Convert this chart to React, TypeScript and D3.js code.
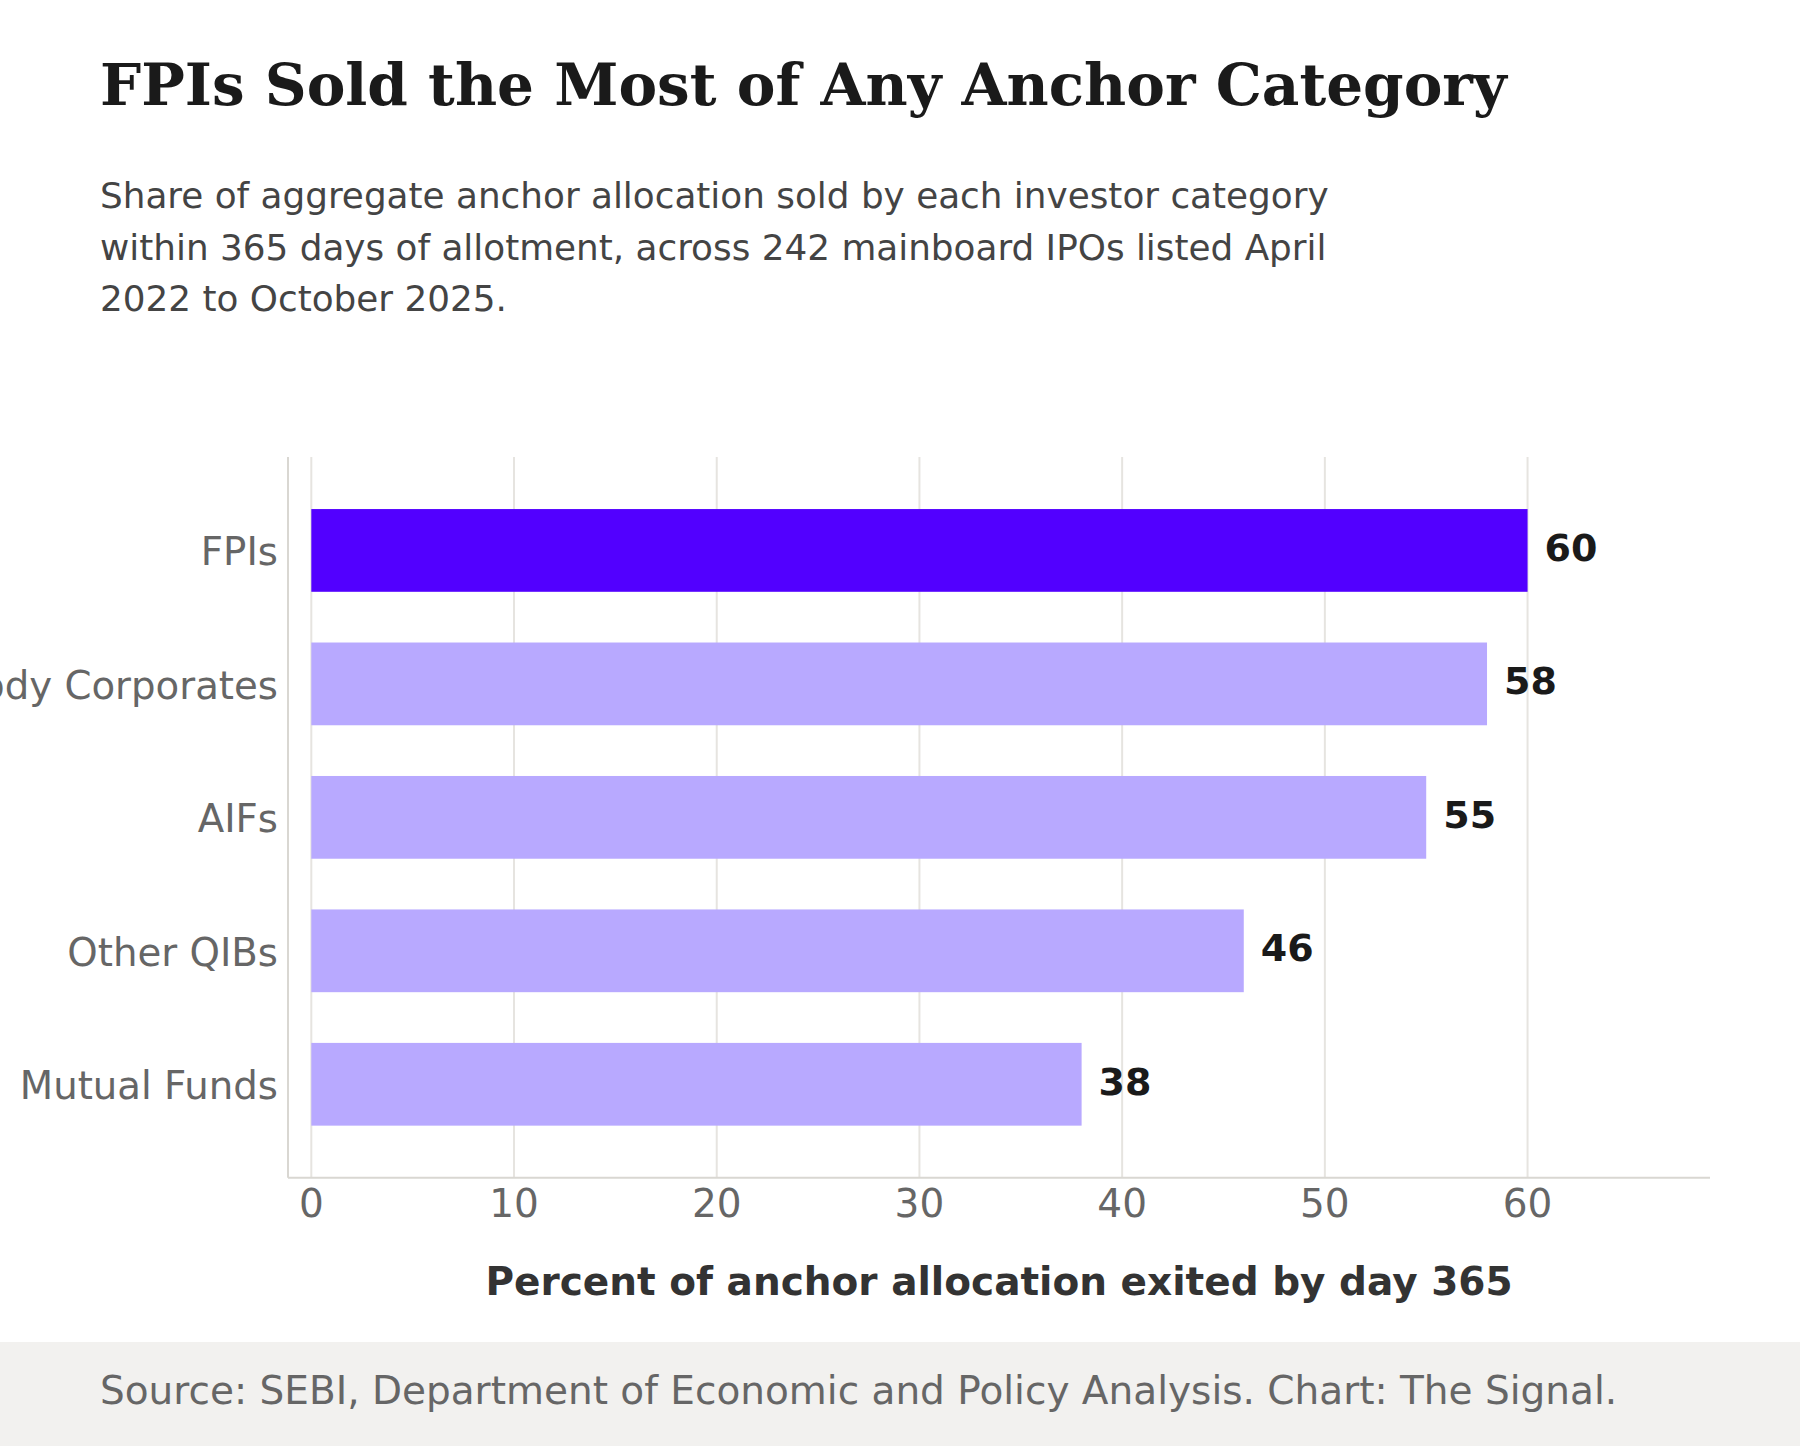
/**
 * Anchor Exit Bar Chart
 * Horizontal bars showing share of anchor allocation sold within 365 days
 */

import { useEffect, useRef } from 'react';
import * as d3 from 'd3';

const categories = ['FPIs', 'Body Corporates', 'AIFs', 'Other QIBs', 'Mutual Funds'];
const values = [60, 58, 55, 46, 38];
const xTicks = [0, 10, 20, 30, 40, 50, 60];

const title = 'FPIs Sold the Most of Any Anchor Category';
const subtitleLines = [
    'Share of aggregate anchor allocation sold by each investor category',
    'within 365 days of allotment, across 242 mainboard IPOs listed April',
    '2022 to October 2025.',
];
const xLabel = 'Percent of anchor allocation exited by day 365';
const source = 'Source: SEBI, Department of Economic and Policy Analysis. Chart: The Signal.';

export default function App() {
    const svgRef = useRef<SVGSVGElement>(null);

    useEffect(() => {
        if (!svgRef.current) return;

        const svg = d3.select(svgRef.current);
        svg.selectAll('*').remove();

        const width = 1800;
        const height = 1446;
        const font = "'DejaVu Sans', sans-serif";

        svg.append('rect')
            .attr('width', width)
            .attr('height', height)
            .attr('fill', '#ffffff');

        // Title + subtitle
        svg.append('text')
            .attr('x', 100)
            .attr('y', 105)
            .attr('fill', '#1a1a1a')
            .attr('font-family', "'DejaVu Serif', serif")
            .attr('font-weight', 700)
            .attr('font-size', '58px')
            .text(title);

        subtitleLines.forEach((line, i) => {
            svg.append('text')
                .attr('x', 100)
                .attr('y', 208 + i * 51.7)
                .attr('fill', '#444444')
                .attr('font-family', font)
                .attr('font-size', '35.8px')
                .text(line);
        });

        // Plot area
        const left = 288;
        const right = 1710;
        const top = 457;
        const bottom = 1177.7;

        const x = d3.scaleLinear()
            .domain([-1.15, 69])
            .range([left, right]);

        const y = d3.scaleBand<string>()
            .domain(categories)
            .range([top, bottom])
            .paddingInner(0.38)
            .paddingOuter(0.39);

        const mid = (d: string) => y(d)! + y.bandwidth() / 2;

        const g = svg.append('g');

        // Gridlines
        g.selectAll('line.grid')
            .data(xTicks)
            .join('line')
            .attr('class', 'grid')
            .attr('x1', d => x(d))
            .attr('x2', d => x(d))
            .attr('y1', top)
            .attr('y2', bottom)
            .attr('stroke', '#e6e4e0')
            .attr('stroke-width', 2);

        // Bars
        g.selectAll('rect.bar')
            .data(categories)
            .join('rect')
            .attr('class', 'bar')
            .attr('x', x(0))
            .attr('y', d => y(d)!)
            .attr('width', (d, i) => x(values[i]) - x(0))
            .attr('height', y.bandwidth())
            .attr('fill', (d, i) => i === 0 ? '#5200ff' : '#b8a9ff');

        // Value labels
        g.selectAll('text.value')
            .data(categories)
            .join('text')
            .attr('class', 'value')
            .attr('x', (d, i) => x(values[i]) + 17)
            .attr('y', d => mid(d) + 10.5)
            .attr('fill', '#1a1a1a')
            .attr('font-family', font)
            .attr('font-weight', 700)
            .attr('font-size', '38px')
            .text((d, i) => values[i]);

        // Spines
        g.append('line')
            .attr('x1', left)
            .attr('x2', left)
            .attr('y1', top)
            .attr('y2', bottom)
            .attr('stroke', '#d9d7d2')
            .attr('stroke-width', 2);

        g.append('line')
            .attr('x1', left)
            .attr('x2', right)
            .attr('y1', bottom)
            .attr('y2', bottom)
            .attr('stroke', '#d9d7d2')
            .attr('stroke-width', 2);

        // Y tick labels (the long one is clipped by the left edge, as in the source)
        g.selectAll('text.ylab')
            .data(categories)
            .join('text')
            .attr('class', 'ylab')
            .attr('x', left - 10)
            .attr('y', d => mid(d) + 15)
            .attr('text-anchor', 'end')
            .attr('fill', '#666666')
            .attr('font-family', font)
            .attr('font-size', '38.7px')
            .text(d => d);

        // X tick labels
        g.selectAll('text.xlab')
            .data(xTicks)
            .join('text')
            .attr('class', 'xlab')
            .attr('x', d => x(d))
            .attr('y', 1216.7)
            .attr('text-anchor', 'middle')
            .attr('fill', '#666666')
            .attr('font-family', font)
            .attr('font-size', '39px')
            .text(d => d);

        // X axis title
        g.append('text')
            .attr('x', (left + right) / 2)
            .attr('y', 1295)
            .attr('text-anchor', 'middle')
            .attr('fill', '#333333')
            .attr('font-family', font)
            .attr('font-weight', 700)
            .attr('font-size', '39px')
            .text(xLabel);

        // Footer
        svg.append('rect')
            .attr('x', 0)
            .attr('y', 1342)
            .attr('width', width)
            .attr('height', height - 1342)
            .attr('fill', '#f2f1ef');

        svg.append('text')
            .attr('x', 100)
            .attr('y', 1404)
            .attr('fill', '#666666')
            .attr('font-family', font)
            .attr('font-size', '39px')
            .text(source);

    }, []);

    return (
        <svg
            ref={svgRef}
            width="1800"
            height="1446"
            style={{ position: 'absolute', left: 0, top: 0, display: 'block' }}
        />
    );
}
